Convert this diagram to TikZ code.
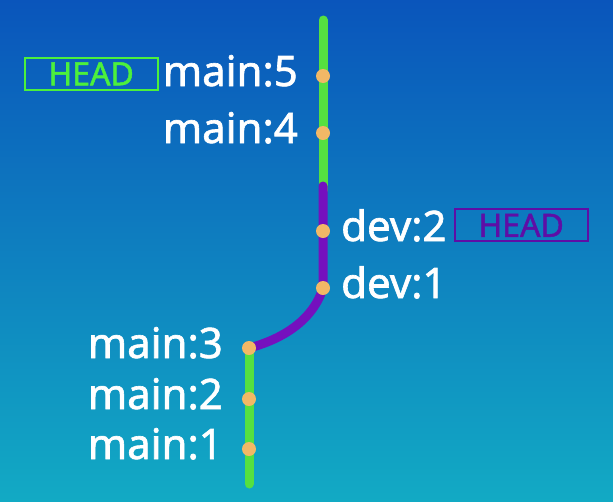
\documentclass[tikz,border=0pt]{standalone}
\usepackage{fontspec}
\setmainfont{Noto Sans}[FakeBold=1.5]
\usetikzlibrary{positioning}
\definecolor{bgtop}{HTML}{0A55BB}
\definecolor{bgbot}{HTML}{12AAC4}
\definecolor{maingreen}{HTML}{55E040}
\definecolor{devpurple}{HTML}{7510BE}
\definecolor{commitdot}{HTML}{F2B866}
\definecolor{headgreen}{HTML}{4CF03C}
\definecolor{headpurple}{HTML}{5E0EA6}

\begin{document}
\begin{tikzpicture}[x=1pt,y=-1pt,
  branch/.style={line width=9pt,line cap=round},
  commit/.style={circle,fill=commitdot,inner sep=0pt,minimum size=14pt},
  tag/.style={text=white,inner sep=0pt,font=\fontsize{42}{48}\selectfont},
  headbox/.style={draw,line width=2pt,minimum width=133pt,minimum height=32pt,inner sep=0pt,font=\fontsize{32}{36}\selectfont}]
  \shade[top color=bgtop,bottom color=bgbot] (0,0) rectangle (613,501);
  \useasboundingbox (0,0) rectangle (613,501);
  % commit positions
  \coordinate (top) at (323,20);
  \coordinate (c5) at (323,76);
  \coordinate (c4) at (323,133);
  \coordinate (fork) at (323,190);
  \coordinate (devtop) at (323,186);
  \coordinate (c2d) at (323,231);
  \coordinate (c1d) at (323,288);
  \coordinate (c3) at (249,348);
  \coordinate (c2) at (249,399);
  \coordinate (c1) at (249,449);
  \coordinate (bottom) at (249,484);
  % branches
  \draw[branch,maingreen] (top) -- (c5) -- (c4) -- (fork);
  \draw[branch,devpurple] (devtop) -- (c2d) -- (c1d) .. controls +(-10,32) and +(34,-9) .. (c3);
  \draw[branch,maingreen] (c3) -- (c2) -- (c1) -- (bottom);
  % commits
  \node[commit] (m5) at (c5) {};
  \node[commit] (m4) at (c4) {};
  \node[commit] (d2) at (c2d) {};
  \node[commit] (d1) at (c1d) {};
  \node[commit] (m3) at (c3) {};
  \node[commit] (m2) at (c2) {};
  \node[commit] (m1) at (c1) {};
  % labels
  \node[tag,left=25pt of m5.center,anchor=base east,yshift=-10pt] (l5) {main:5};
  \node[tag,left=25pt of m4.center,anchor=base east,yshift=-10pt] (l4) {main:4};
  \node[tag,right=18pt of d2.center,anchor=base west,yshift=-10pt] (ld2) {dev:2};
  \node[tag,right=18pt of d1.center,anchor=base west,yshift=-10pt] (ld1) {dev:1};
  \node[tag,left=26pt of m3.center,anchor=base east,yshift=-10pt] (l3) {main:3};
  \node[tag,left=26pt of m2.center,anchor=base east,yshift=-10pt] (l2) {main:2};
  \node[tag,left=26pt of m1.center,anchor=base east,yshift=-10pt] (l1) {main:1};
  % heads
  \node[headbox,draw=headgreen,text=headgreen,left=4pt of l5.west,anchor=east,yshift=-3pt] (hmain) {HEAD};
  \node[headbox,draw=headpurple,text=headpurple,right=7pt of ld2.east,anchor=west] (hdev) {HEAD};
\end{tikzpicture}
\end{document}
